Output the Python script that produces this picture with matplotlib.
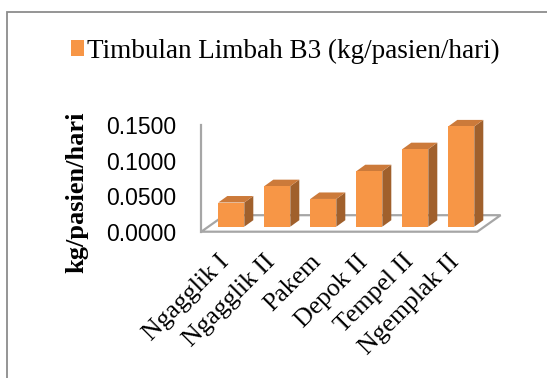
import numpy as np
import matplotlib
matplotlib.use('Agg')
import matplotlib.pyplot as plt
from matplotlib.patches import Polygon, Rectangle
from matplotlib.transforms import ScaledTranslation

# Timbulan limbah B3 per puskesmas
puskesmas = ['Ngagglik I', 'Ngagglik II', 'Pakem', 'Depok II', 'Tempel II', 'Ngemplak II']
timbulan = [0.034, 0.057, 0.039, 0.078, 0.109, 0.141]
yticks = [0.0, 0.05, 0.10, 0.15]

FRONT = '#F79646'
TOP = '#CC7A3A'
SIDE = '#A0602C'
SERIF = 'Liberation Serif'

W, H = 547, 378
fig = plt.figure(figsize=(W / 100, H / 100), dpi=100)

# axes placed in pixels: x from 201.3 (6 categories * 46 px), y = 0 at 231.7, 0.15 at 125
px_cat = 46.0
px_val = 711.3
left, bottom = 201.3, 231.7
ax = fig.add_axes([left / W, (H - bottom) / H, 6 * px_cat / W, 0.15 * px_val / H])
ax.set_xlim(-0.5, 5.5)
ax.set_ylim(0, 0.15)
for s in ax.spines.values():
    s.set_visible(False)
ax.patch.set_alpha(0)

# depth offsets (pixels -> data units)
def depth(dx_px, dy_px):
    return dx_px / px_cat, dy_px / px_val

fdx, fdy = depth(23.3, 16.5)   # floor depth
bdx, bdy = depth(7.0, 5.0)     # bar front inset
sdx, sdy = depth(9.0, 6.5)     # bar depth

# floor
floor = Polygon([(-0.5, 0), (5.5, 0), (5.5 + fdx, fdy), (-0.5 + fdx, fdy)],
                closed=True, facecolor='white', edgecolor='#A6A6A6', lw=1.6,
                clip_on=False, zorder=1)
ax.add_patch(floor)
ax.plot([-0.5, -0.5], [0, 0.15], color='#A6A6A6', lw=1.6, clip_on=False, zorder=1)

# bars: front face with bar(), top and side faces as polygons
x = np.arange(len(puskesmas))
bw = 26 / px_cat
bars = ax.bar(x + bdx, timbulan, width=bw, bottom=bdy, color=FRONT,
              label='Timbulan Limbah B3 (kg/pasien/hari)', zorder=3, clip_on=False)
for xi, v in zip(x, timbulan):
    xl = xi + bdx - bw / 2
    xr = xi + bdx + bw / 2
    y0 = bdy
    y1 = bdy + v
    side = Polygon([(xr, y0), (xr + sdx, y0 + sdy), (xr + sdx, y1 + sdy), (xr, y1)],
                   closed=True, facecolor=SIDE, edgecolor='none', clip_on=False, zorder=2)
    top = Polygon([(xl, y1), (xr, y1), (xr + sdx, y1 + sdy), (xl + sdx, y1 + sdy)],
                  closed=True, facecolor=TOP, edgecolor='none', clip_on=False, zorder=2)
    ax.add_patch(side)
    ax.add_patch(top)

# value axis labels
ax.set_yticks(yticks)
ax.set_yticklabels(['%.4f' % t for t in yticks], fontfamily='Liberation Sans', fontsize=16.5)
ax.tick_params(axis='y', length=0, pad=18)
ax.set_xticks([])

# category labels, rotated 45 degrees
for xi, name in zip(x, puskesmas):
    tr = ax.transData + ScaledTranslation(-6 / 100, -19 / 100, fig.dpi_scale_trans)
    ax.text(xi, 0, name, transform=tr, rotation=45, rotation_mode='anchor',
            ha='right', va='top', fontfamily=SERIF, fontsize=18.5)

fig.text(77 / W, 1 - 192 / H, 'kg/pasien/hari', rotation=90, ha='center', va='center',
         fontfamily=SERIF, fontweight='bold', fontsize=19)

fig.legend(handles=[bars], loc='center', bbox_to_anchor=(285 / W, 1 - 51 / H),
           frameon=False, prop={'family': SERIF, 'size': 19.5},
           handlelength=0.5, handleheight=0.5, handletextpad=0.1, borderpad=0)

# chart border
fig.add_artist(Rectangle((6.5 / W, -0.1), 1.2, 1.1 - 12.5 / H, transform=fig.transFigure,
                         fill=False, edgecolor='#8C8C8C', lw=1.3))

fig.savefig('out.png', dpi=100)
